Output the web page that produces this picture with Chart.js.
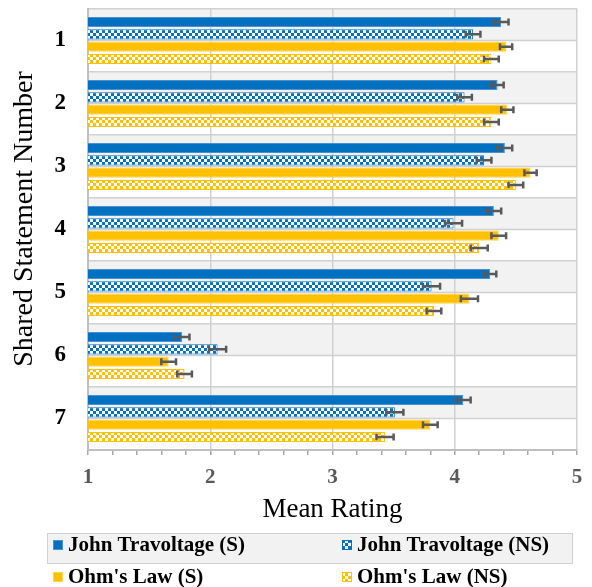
<!DOCTYPE html>
<html>
<head>
<meta charset="utf-8">
<script src="https://cdn.jsdelivr.net/npm/chart.js@4.4.1/dist/chart.umd.min.js"></script>
<style>
  html, body { margin: 0; padding: 0; background: #fff; }
  canvas { display: block; }
</style>
</head>
<body>
<canvas id="chart" width="592" height="587"></canvas>
<script>
const statements = ['1', '2', '3', '4', '5', '6', '7'];
const seriesNames = ['John Travoltage (S)', 'John Travoltage (NS)', "Ohm's Law (S)", "Ohm's Law (NS)"];

const jtS  = [4.38, 4.35, 4.41, 4.32, 4.29, 1.77, 4.07];
const jtNS = [4.15, 4.08, 4.24, 3.99, 3.81, 2.06, 3.51];
const olS  = [4.42, 4.43, 4.62, 4.36, 4.12, 1.66, 3.80];
const olNS = [4.30, 4.30, 4.50, 4.20, 3.83, 1.79, 3.43];

const jtSErr  = [0.06, 0.05, 0.06, 0.06, 0.05, 0.06, 0.06];
const jtNSErr = [0.06, 0.06, 0.06, 0.07, 0.07, 0.07, 0.07];
const olSErr  = [0.05, 0.05, 0.05, 0.06, 0.07, 0.06, 0.06];
const olNSErr = [0.06, 0.06, 0.06, 0.07, 0.06, 0.06, 0.07];

const xTicks = [1, 2, 3, 4, 5];

const BLUE = '#0070C0';
const GOLD = '#FFC000';
const SERIF = "'Liberation Serif', 'Times New Roman', serif";

function checker(color) {
  const c = document.createElement('canvas');
  c.width = 6; c.height = 6;
  const g = c.getContext('2d');
  g.fillStyle = '#fff';
  g.fillRect(0, 0, 6, 6);
  g.fillStyle = color;
  g.fillRect(0, 0, 3, 3);
  g.fillRect(3, 3, 3, 3);
  return g.createPattern(c, 'repeat');
}

const fills = [BLUE, checker(BLUE), GOLD, checker(GOLD)];
const borders = ['#4a90d0', BLUE, '#ffd34d', GOLD];
const values = [jtS, jtNS, olS, olNS];
const errors = [jtSErr, jtNSErr, olSErr, olNSErr];

const isWhole = v => Math.abs(v - Math.round(v)) < 1e-6;

// grey half-bands behind each statement plus the middle line
const bands = {
  id: 'bands',
  beforeDraw(chart) {
    const {ctx, chartArea: a, scales: {y}} = chart;
    const h = (a.bottom - a.top) / statements.length;
    ctx.save();
    statements.forEach((s, i) => {
      const mid = y.getPixelForValue(i);
      ctx.fillStyle = '#f2f2f2';
      ctx.fillRect(a.left, mid - h / 2, a.right - a.left, h / 2);
      ctx.strokeStyle = '#d0d0d0';
      ctx.lineWidth = 1.5;
      ctx.beginPath();
      ctx.moveTo(a.left, mid);
      ctx.lineTo(a.right, mid);
      ctx.stroke();
    });
    ctx.restore();
  }
};

const errorBars = {
  id: 'errorBars',
  afterDatasetsDraw(chart) {
    const {ctx, scales: {x}} = chart;
    ctx.save();
    ctx.strokeStyle = '#595959';
    ctx.lineWidth = 2.5;
    chart.data.datasets.forEach((ds, di) => {
      chart.getDatasetMeta(di).data.forEach((bar, i) => {
        const v = ds.data[i], e = ds.errors[i];
        const x0 = x.getPixelForValue(v - e), x1 = x.getPixelForValue(v + e);
        const y = bar.y;
        ctx.beginPath();
        ctx.moveTo(x0, y); ctx.lineTo(x1, y);
        ctx.moveTo(x0, y - 3.5); ctx.lineTo(x0, y + 3.5);
        ctx.moveTo(x1, y - 3.5); ctx.lineTo(x1, y + 3.5);
        ctx.stroke();
      });
    });
    ctx.restore();
  }
};

// two-column legend under the axis title
const legendBox = {
  id: 'legendBox',
  afterDraw(chart) {
    const ctx = chart.ctx;
    ctx.save();
    ctx.fillStyle = '#f2f2f2';
    ctx.fillRect(47, 533, 525, 30);
    ctx.strokeStyle = '#d0d0d0';
    ctx.lineWidth = 1;
    ctx.strokeRect(47.5, 533.5, 525, 30);
    const cols = [53, 342];
    const rows = [546, 578];
    ctx.font = 'bold 21px ' + SERIF;
    ctx.textBaseline = 'middle';
    chart.data.datasets.forEach((ds, i) => {
      const mx = cols[i % 2], my = rows[Math.floor(i / 2)];
      ctx.fillStyle = ds.backgroundColor;
      ctx.fillRect(mx, my - 6, 10, 10);
      ctx.strokeStyle = ds.borderColor;
      ctx.strokeRect(mx + 0.5, my - 5.5, 9, 9);
      ctx.fillStyle = '#000';
      ctx.fillText(ds.label, mx + 15, my);
    });
    ctx.restore();
  }
};

new Chart(document.getElementById('chart').getContext('2d'), {
  type: 'bar',
  data: {
    labels: statements,
    datasets: seriesNames.map((name, i) => ({
      label: name,
      data: values[i],
      errors: errors[i],
      backgroundColor: fills[i],
      borderColor: borders[i],
      borderWidth: 1,
      categoryPercentage: 0.78,
      barPercentage: 0.82
    }))
  },
  options: {
    indexAxis: 'y',
    responsive: false,
    animation: false,
    layout: { padding: { top: 9, right: 15, bottom: 61, left: 0 } },
    plugins: {
      legend: { display: false },
      tooltip: { enabled: false }
    },
    scales: {
      x: {
        min: 1,
        max: 5,
        ticks: {
          stepSize: 0.2,
          autoSkip: false,
          maxRotation: 0,
          padding: 10,
          color: '#595959',
          font: { family: SERIF, size: 21, weight: 'bold' },
          callback: v => (isWhole(v) && xTicks.includes(Math.round(v))) ? String(Math.round(v)) : ''
        },
        grid: {
          color: c => (c.tick && isWhole(c.tick.value)) ? '#d0d0d0' : 'rgba(0,0,0,0)',
          lineWidth: 1.5,
          tickColor: '#a6a6a6',
          tickLength: 5,
          tickWidth: 1.5
        },
        border: { display: true, color: '#bfbfbf', width: 2 },
        title: {
          display: true,
          text: 'Mean Rating',
          color: '#000',
          font: { family: SERIF, size: 27 },
          padding: { top: 0, bottom: 0 }
        },
        afterFit: s => { s.height = 76; s.paddingLeft = 0; s.paddingRight = 0; }
      },
      y: {
        ticks: {
          padding: 22,
          color: '#000',
          font: { family: SERIF, size: 23, weight: 'bold' }
        },
        grid: {
          color: '#d0d0d0',
          lineWidth: 1.5,
          drawTicks: false
        },
        border: { display: true, color: '#bfbfbf', width: 2 },
        title: {
          display: true,
          // leading spaces nudge the rotated title up a little, like the original
          text: '   Shared Statement Number',
          color: '#000',
          font: { family: SERIF, size: 28 },
          padding: { top: 8, bottom: 0 }
        },
        afterFit: s => { s.width = 88; s.paddingTop = 0; s.paddingBottom = 0; }
      }
    }
  },
  plugins: [bands, errorBars, legendBox]
});
</script>
</body>
</html>
